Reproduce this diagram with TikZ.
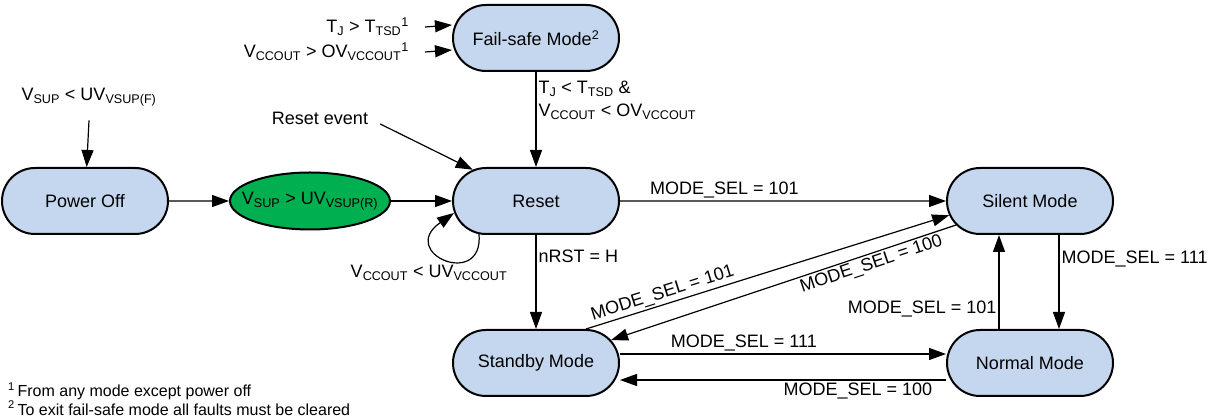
\documentclass[tikz,border=0pt]{standalone}
\usepackage{fontspec}
\setmainfont{Liberation Sans}
\usetikzlibrary{positioning,shapes.misc,shapes.geometric,arrows.meta}
\definecolor{stateblue}{RGB}{197,215,238}
\definecolor{condgreen}{RGB}{0,176,80}
\newcommand{\Sub}[1]{\textsubscript{#1}}
\newcommand{\Sup}[1]{\textsuperscript{#1}}
\tikzset{
	state/.style={rounded rectangle, draw, line width=2pt, fill=stateblue,
		minimum width=166pt, minimum height=66pt, inner sep=0pt},
	cond/.style={ellipse, draw, line width=2pt, fill=condgreen,
		minimum width=160pt, minimum height=57pt, inner xsep=-12pt, inner ysep=0pt},
	lbl/.style={inner sep=2pt},
	arr/.style={-{Triangle[length=17pt,width=12pt]}, line width=1.2pt},
}
\begin{document}
\begin{tikzpicture}[x=1pt, y=1pt, every node/.style={font=\fontsize{18}{23}\selectfont}]
		\useasboundingbox (0,0) rectangle (1214,417);

		% Define nodes
		\node[state] (reset) at (536,216) {Reset};
		\node[cond, left=61pt of reset] (vsup) {V\Sub{SUP} > UV\Sub{VSUP(R)}};
		\node[state, left=60pt of vsup] (off) {Power Off};
		\node[state, above=95pt of reset] (failsafe) {Fail-safe Mode\Sup{2}};
		\node[state, below=94pt of reset] (standby) {Standby Mode};
		\node[state, right=326pt of reset] (silent) {Silent Mode};
		\node[state, right=326pt of standby] (normal) {Normal Mode};

		% Free labels
		\node[lbl] (vsupf) at (89,320) {V\Sub{SUP} < UV\Sub{VSUP(F)}};
		\node[lbl] (resetev) at (320,299) {Reset event};
		\node[lbl, anchor=east] (tj) at (411,390) {T\Sub{J} > T\Sub{TSD}\Sup{1}};
		\node[lbl, anchor=east] (vcc) at (411,365) {V\Sub{CCOUT} > OV\Sub{VCCOUT}\Sup{1}};
		\node[lbl] (uv) at (429,144) {V\Sub{CCOUT} < UV\Sub{VCCOUT}};
		\node[lbl, anchor=west, align=left, font=\fontsize{16}{17}\selectfont] (notes) at (6,18)
			{\Sup{1}\,From any mode except power off\\\Sup{2}\,To exit fail-safe mode all faults must be cleared};

		% Connect the nodes
		\draw[arr] ([yshift=-12pt]vsupf.south) -- (off);
		\draw[arr] (off) -- (vsup);
		\draw[arr] (vsup) -- (reset);
		\draw[arr] ([xshift=10pt,yshift=-6pt]resetev.east) -- (reset);
		\draw[arr] ([xshift=14pt]tj.east) -- ([yshift=13pt]failsafe.west);
		\draw[arr] ([xshift=14pt]vcc.east) -- ([yshift=-12pt]failsafe.west);
		\draw[arr] (failsafe) -- node[lbl, right, pos=0.3, align=left]
			{T\Sub{J} < T\Sub{TSD} \&\\V\Sub{CCOUT} < OV\Sub{VCCOUT}} (reset);
		\draw[arr] ([xshift=27pt,yshift=-33pt]reset.west) to[out=-85, in=215, out distance=56pt, in distance=70pt]
			([xshift=2pt,yshift=-12pt]reset.west);

		\draw[arr] (reset) -- node[lbl, above, pos=0.32] {MODE\_SEL = 101} (silent);
		\draw[arr] (reset) -- node[lbl, right, pos=0.23] {nRST = H} (standby);
		\draw[arr] ([xshift=50pt]standby.north) -- node[lbl, sloped, above, pos=0.22] {MODE\_SEL = 101} (silent.190);
		\draw[arr] (silent.198) -- node[lbl, sloped, below, pos=0.255] {MODE\_SEL = 100} (standby.17);
		\draw[arr] ([yshift=9pt]standby.east) -- node[lbl, above, pos=0.38] {MODE\_SEL = 111} ([yshift=9pt]normal.west);
		\draw[arr] ([yshift=-17pt]normal.west) -- node[lbl, below, pos=0.27] {MODE\_SEL = 100} ([yshift=-17pt]standby.east);
		\draw[arr] ([xshift=-31pt]normal.north) -- node[lbl, left, pos=0.21] {MODE\_SEL = 101} ([xshift=-31pt]silent.south);
		\draw[arr] ([xshift=29pt]silent.south) -- node[lbl, right, pos=0.26] {MODE\_SEL = 111} ([xshift=29pt]normal.north);

	\end{tikzpicture}
\end{document}
